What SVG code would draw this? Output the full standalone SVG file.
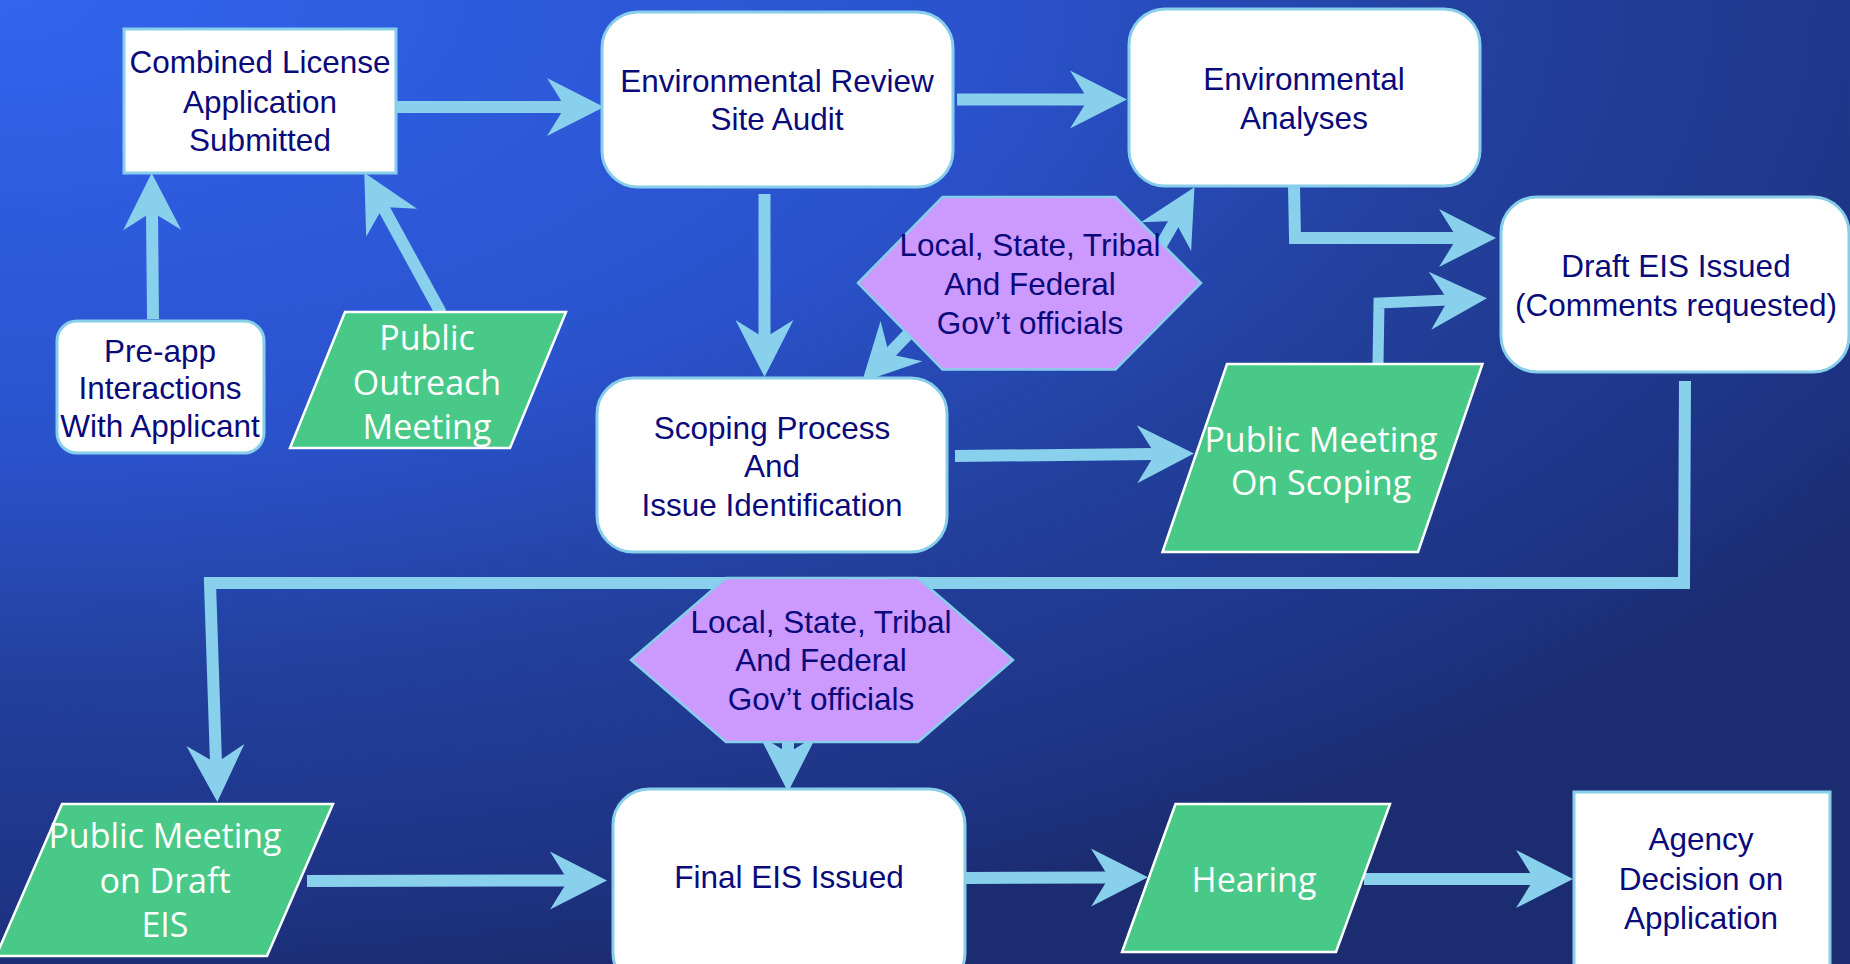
<svg xmlns="http://www.w3.org/2000/svg" width="1850" height="964" viewBox="0 0 1850 964">
<style>
.box{fill:#ffffff;stroke:#87CEEB;stroke-width:3}
.hex{fill:#CC99FF;stroke:#87CEEB;stroke-width:2.5}
.para{fill:#48C987;stroke:#ffffff;stroke-width:2.5}
.t{font-family:"Liberation Sans",Arial,sans-serif;font-size:31.5px;fill:#0A0A7A;text-anchor:middle}
.w{font-family:"Open Sans","Noto Sans",sans-serif;font-size:34px;fill:#ffffff;text-anchor:middle}
.c{fill:none;stroke:#88D0EC;stroke-width:12;stroke-linejoin:miter;marker-end:url(#ah)}
</style>
<defs>
<radialGradient id="bg" gradientUnits="userSpaceOnUse" cx="0" cy="0" r="1000" gradientTransform="scale(2.2,1)">
<stop offset="0" stop-color="#3264EE"/>
<stop offset="0.45" stop-color="#2A52CC"/>
<stop offset="0.68" stop-color="#22409C"/>
<stop offset="0.92" stop-color="#1E3282"/>
<stop offset="1" stop-color="#1B2C70"/>
</radialGradient>
<marker id="ah" markerUnits="userSpaceOnUse" viewBox="-20 -31 62 62" markerWidth="62" markerHeight="62" refX="0" refY="0" orient="auto" overflow="visible">
<path d="M39,0 L-18,-29 L0,0 L-18,29 Z" fill="#88D0EC"/>
</marker>
</defs>
<rect x="0" y="0" width="1850" height="964" fill="url(#bg)"/>

<g id="connectors">
<path class="c" d="M397,107 L565,107"/>
<path class="c" d="M153,319 L152,212"/>
<path class="c" d="M441,313 L383,207"/>
<path class="c" d="M957,99.5 L1088,99.5"/>
<path class="c" d="M764.5,194 L764.5,338"/>
<path class="c" d="M1156,254 L1175,221"/>
<path class="c" d="M914,328 L889,354"/>
<path class="c" d="M955,456 L1155,454"/>
<path class="c" d="M1294,186 L1295,238 L1457,238"/>
<path class="c" style="stroke-width:11" d="M1378,364 L1379,303 L1448,300"/>
<path class="c" d="M1685,381 L1684,583 L210,583 L216,763"/>
<path class="c" d="M788,730 L788,753"/>
<path class="c" d="M307,881 L568,880.5"/>
<path class="c" d="M965,878 L1109,877.5"/>
<path class="c" d="M1364,879 L1534,879"/>
</g>

<g id="combined-license">
<rect class="box" x="124" y="29" width="272" height="144"/>
<text class="t" x="260" y="73">Combined License</text>
<text class="t" x="260" y="113">Application</text>
<text class="t" x="260" y="151">Submitted</text>
</g>

<g id="env-review">
<rect class="box" x="602" y="12" width="351" height="175" rx="36"/>
<text class="t" x="777" y="92">Environmental Review</text>
<text class="t" x="777" y="130">Site Audit</text>
</g>

<g id="env-analyses">
<rect class="box" x="1129" y="9" width="351" height="177" rx="36"/>
<text class="t" x="1304" y="90">Environmental</text>
<text class="t" x="1304" y="129">Analyses</text>
</g>

<g id="draft-eis">
<rect class="box" x="1501" y="197" width="348" height="175" rx="36"/>
<text class="t" x="1676" y="277">Draft EIS Issued</text>
<text class="t" x="1676" y="316">(Comments requested)</text>
</g>

<g id="pre-app">
<rect class="box" x="57" y="321" width="207" height="132" rx="20"/>
<text class="t" x="160" y="362">Pre-app</text>
<text class="t" x="160" y="399">Interactions</text>
<text class="t" x="160" y="437">With Applicant</text>
</g>

<g id="public-outreach">
<polygon class="para" points="345,312 566,312 510,448 290,448"/>
<text class="w" x="427" y="350">Public</text>
<text class="w" x="427" y="395">Outreach</text>
<text class="w" x="427" y="439">Meeting</text>
</g>

<g id="officials-1">
<polygon class="hex" points="858,283 942.5,197 1115.5,197 1201,283 1115.5,369.5 942.5,369.5"/>
<text class="t" x="1030" y="256">Local, State, Tribal</text>
<text class="t" x="1030" y="295">And Federal</text>
<text class="t" x="1030" y="334">Gov’t officials</text>
</g>

<g id="scoping">
<rect class="box" x="597" y="378" width="350" height="174" rx="36"/>
<text class="t" x="772" y="439">Scoping Process</text>
<text class="t" x="772" y="477">And</text>
<text class="t" x="772" y="516">Issue Identification</text>
</g>

<g id="public-meeting-scoping">
<polygon class="para" points="1227,364 1482.5,364 1418,552 1162.5,552"/>
<text class="w" x="1321" y="452">Public Meeting</text>
<text class="w" x="1321" y="495">On Scoping</text>
</g>

<g id="officials-2">
<polygon class="hex" points="631,660 726,578 918,578 1013,660 918,742 726,742"/>
<text class="t" x="821" y="633">Local, State, Tribal</text>
<text class="t" x="821" y="671">And Federal</text>
<text class="t" x="821" y="710">Gov’t officials</text>
</g>

<g id="public-meeting-draft">
<polygon class="para" points="62,804 333,804 267,956 -4,956"/>
<text class="w" x="165" y="848">Public Meeting</text>
<text class="w" x="165" y="893">on Draft</text>
<text class="w" x="165" y="937">EIS</text>
</g>

<g id="final-eis">
<rect class="box" x="613" y="789" width="352" height="200" rx="36"/>
<text class="t" x="789" y="888">Final EIS Issued</text>
</g>

<g id="hearing">
<polygon class="para" points="1175.5,804 1390,804 1336,952 1122,952"/>
<text class="w" x="1254" y="892">Hearing</text>
</g>

<g id="agency-decision">
<rect class="box" x="1574" y="792" width="256" height="190"/>
<text class="t" x="1701" y="850">Agency</text>
<text class="t" x="1701" y="890">Decision on</text>
<text class="t" x="1701" y="929">Application</text>
</g>
</svg>
